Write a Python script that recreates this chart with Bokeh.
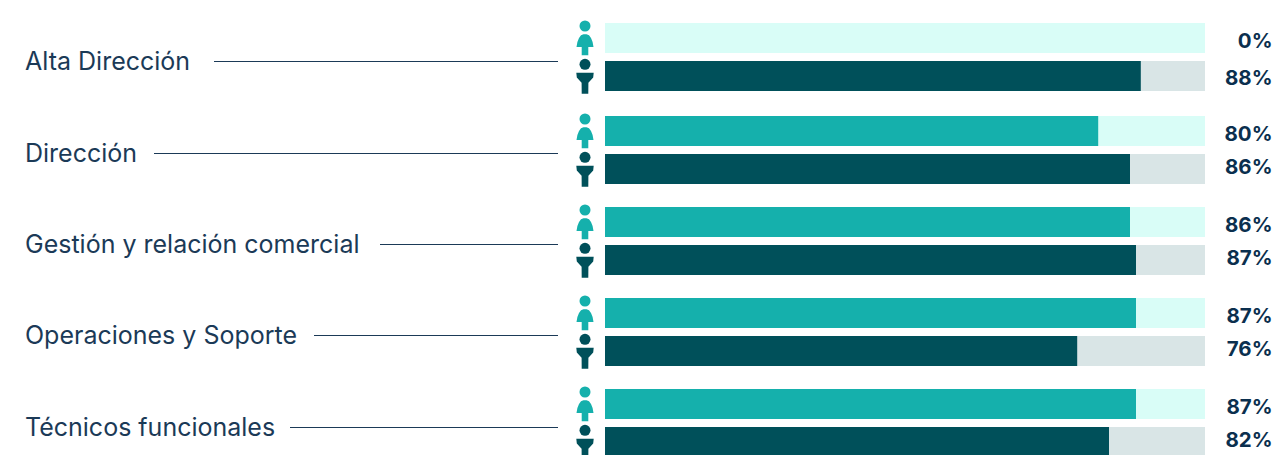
from bokeh.plotting import figure
from bokeh.models import Range1d, ColumnDataSource
from bokeh.core.properties import value
from bokeh.embed import file_html
from bokeh.resources import INLINE

# ---- data -----
categories = ["Alta Dirección", "Dirección", "Gestión y relación comercial",
              "Operaciones y Soporte", "Técnicos funcionales"]
women_labels = ["0%", "80%", "86%", "87%", "87%"]
men_labels = ["88%", "86%", "87%", "76%", "82%"]
# bar lengths as drawn, in % of the track (the bars are not proportional to the labels)
women_bars = [0, 82.2, 87.5, 88.5, 88.5]
men_bars = [89.3, 87.5, 88.5, 78.7, 84.0]
track = [100, 100, 100, 100, 100]

# ---- layout (pixels) ----
W, H = 1274, 455
X0, X100 = 605, 1205
FONT = "Inter"
def px(x):  # page pixel -> percent scale
    return (x - X0) * 100.0 / (X100 - X0)

p = figure(width=W, height=H, output_backend="svg", toolbar_location=None,
           x_range=Range1d(px(0.5), px(W + 0.5)), y_range=Range1d(H + 0.5, 0.5),
           x_axis_location=None, y_axis_location=None, min_border=0,
           outline_line_color=None)
p.grid.visible = False

TEAL, TEAL_L = "#15b0ac", "#d9fdf7"
DARK, DARK_L = "#00505a", "#d9e5e6"
TXT = "#1b3a57"; NUM = "#0b2f4e"
BAR_H = 30

w_y = [38, 131, 222, 313, 404]
m_y = [76, 169, 260, 351, 442]
mid = [61, 153, 244, 335, 427]
w_lab_y = [40, 133, 224, 315, 406]
m_lab_y = [77.5, 166, 257, 348, 439]
line_start = [214, 154, 380, 314, 290]

src = ColumnDataSource(dict(c=categories, wl=women_labels, ml=men_labels, wb=women_bars, mb=men_bars,
                            t=track, wy=w_y, my=m_y, mid=mid, wly=w_lab_y, mly=m_lab_y, zero=[0] * 5,
                            liney=[v + 0.5 for v in mid], ty=[v - 0.5 for v in mid],
                            ls=[px(v) for v in line_start], le=[px(558)] * 5))

p.hbar(y="wy", left="zero", right="t", height=BAR_H, color=TEAL_L, source=src, line_color=None)
p.hbar(y="wy", left="zero", right="wb", height=BAR_H, color=TEAL, source=src, line_color=None)
p.hbar(y="my", left="zero", right="t", height=BAR_H, color=DARK_L, source=src, line_color=None)
p.hbar(y="my", left="zero", right="mb", height=BAR_H, color=DARK, source=src, line_color=None)

p.segment(x0="ls", x1="le", y0="liney", y1="liney", line_color=TXT, line_width=1, source=src)

p.text(x=px(25), y="ty", text="c", source=src, text_font=value(FONT), text_font_size="25px",
       text_color=TXT, text_baseline="middle", text_align="left")
for col, ycol in (("wl", "wly"), ("ml", "mly")):
    p.text(x=px(1272.5), y=ycol, text=col, source=src, text_font=value(FONT), text_font_size="20.5px",
           text_font_style="bold", text_color=NUM, text_baseline="middle", text_align="right")

# pictograms
cx = 585
woman_x = [-8.5, -7.6, -6, -4, -1.5, 1.5, 4, 6, 7.6, 8.5, 3.3, 3.3, -3.3, -3.3]
woman_y = [9, 4, 0, -2.7, -3.8, -3.8, -2.7, 0, 4, 9, 9, 17.3, 17.3, 9]
man_x = [-8.7, 8.7, 8.2, 3.4, 3.3, -3.3, -3.4, -8.2]
man_y = [-3.3, -3.3, 1.5, 6.7, 17.7, 17.7, 6.7, 1.5]
p.scatter(x=[px(cx)] * 5, y=[y - 12 for y in w_y], marker="circle", size=11, color=TEAL, line_color=None)
p.scatter(x=[px(cx)] * 5, y=[y - 11.7 for y in m_y], marker="circle", size=11, color=DARK, line_color=None)
p.patches(xs=[[px(cx + d) for d in woman_x] for _ in w_y],
          ys=[[y + d for d in woman_y] for y in w_y], color=TEAL, line_color=None)
p.patches(xs=[[px(cx + d) for d in man_x] for _ in m_y],
          ys=[[y + d for d in man_y] for y in m_y], color=DARK, line_color=None)

open("out.html", "w").write(file_html(p, INLINE))
